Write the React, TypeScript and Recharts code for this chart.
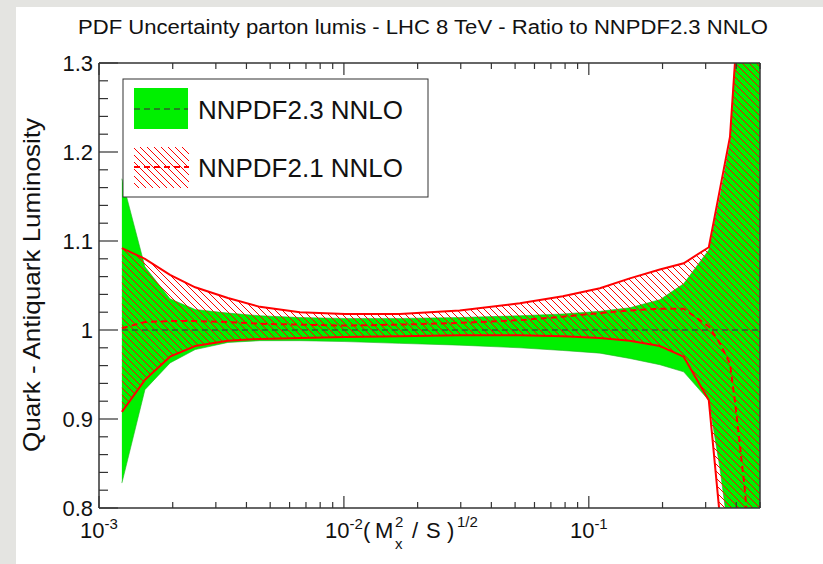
import React from 'react';
import { ComposedChart, Area, Line, XAxis, YAxis } from 'recharts';

// sqrt(M_X^2 / S)
const xValues = [0.00124, 0.00154, 0.00195, 0.00247, 0.00336, 0.00454, 0.00661, 0.0101, 0.0169, 0.0297, 0.0523, 0.0783, 0.111, 0.147, 0.195, 0.244, 0.309, 0.343, 0.377, 0.395, 0.434, 0.499];

// NNPDF2.3 NNLO (ratio to itself)
const nnpdf23Upper = [1.170, 1.071, 1.035, 1.023, 1.019, 1.016, 1.014, 1.013, 1.013, 1.014, 1.016, 1.018, 1.021, 1.025, 1.034, 1.052, 1.090, 1.150, 1.210, 1.300, 1.450, 1.600];
const nnpdf23Lower = [0.828, 0.933, 0.963, 0.978, 0.986, 0.988, 0.988, 0.987, 0.985, 0.983, 0.980, 0.977, 0.974, 0.968, 0.961, 0.953, 0.921, 0.845, 0.760, 0.720, 0.640, 0.500];
const nnpdf23Central = [1, 1, 1, 1, 1, 1, 1, 1, 1, 1, 1, 1, 1, 1, 1, 1, 1, 1, 1, 1, 1, 1];

// NNPDF2.1 NNLO
const nnpdf21Upper = [1.092, 1.080, 1.062, 1.048, 1.036, 1.026, 1.020, 1.018, 1.018, 1.022, 1.030, 1.038, 1.047, 1.058, 1.068, 1.075, 1.093, 1.158, 1.217, 1.300, 1.450, 1.650];
const nnpdf21Lower = [0.908, 0.944, 0.970, 0.982, 0.988, 0.990, 0.991, 0.992, 0.993, 0.994, 0.994, 0.993, 0.991, 0.988, 0.982, 0.970, 0.921, 0.790, 0.650, 0.600, 0.500, 0.400];
const nnpdf21Central = [1.002, 1.009, 1.010, 1.010, 1.009, 1.007, 1.006, 1.005, 1.006, 1.008, 1.011, 1.015, 1.019, 1.022, 1.024, 1.024, 1.004, 0.985, 0.962, 0.920, 0.820, 0.600];

const xTicks = [0.001, 0.002, 0.003, 0.004, 0.005, 0.006, 0.007, 0.008, 0.009, 0.01, 0.02, 0.03, 0.04, 0.05, 0.06, 0.07, 0.08, 0.09, 0.1, 0.2, 0.3, 0.4, 0.5];
const xMajorTicks = [0.001, 0.01, 0.1];
const xMajorExponents = ['-3', '-2', '-1'];

const yTicks = [0.8, 0.82, 0.84, 0.86, 0.88, 0.9, 0.92, 0.94, 0.96, 0.98, 1.0, 1.02, 1.04, 1.06, 1.08, 1.1, 1.12, 1.14, 1.16, 1.18, 1.2, 1.22, 1.24, 1.26, 1.28, 1.3];
const yMajorTicks = [0.8, 0.9, 1.0, 1.1, 1.2, 1.3];
const yMajorLabels = ['0.8', '0.9', '1', '1.1', '1.2', '1.3'];

const seriesNames = ['NNPDF2.3 NNLO', 'NNPDF2.1 NNLO'];
const titleText = 'PDF Uncertainty parton lumis - LHC 8 TeV - Ratio to NNPDF2.3 NNLO';
const yLabelText = 'Quark - Antiquark Luminosity';

const data = xValues.map((x, i) => ({
  x,
  g: [nnpdf23Lower[i], nnpdf23Upper[i]],
  r: [nnpdf21Lower[i], nnpdf21Upper[i]],
  gc: nnpdf23Central[i],
  rc: nnpdf21Central[i],
}));

const FONT = '"Liberation Sans", Arial, Helvetica, sans-serif';
const FRAME = '#333333';
const GREEN = '#00f000';
const RED = '#ff0000';
const DARK_DASH = '#2d5e2d';

const findIndex = (arr: number[], v: number) => arr.findIndex((a) => Math.abs(a - v) < 1e-9);

const YTick = (props: any) => {
  const { x, y, payload } = props;
  const idx = findIndex(yMajorTicks, payload.value);
  const major = idx >= 0;
  return (
    <g>
      <line x1={x} x2={x + (major ? 19 : 9)} y1={y} y2={y} stroke={FRAME} strokeWidth={1.2} />
      {major && (
        <text x={x - 6} y={y} dy="0.36em" textAnchor="end" fontSize={22} fontFamily={FONT} fill="#111">
          {yMajorLabels[idx]}
        </text>
      )}
    </g>
  );
};

const XTickBottom = (props: any) => {
  const { x, y, payload } = props;
  const idx = findIndex(xMajorTicks, payload.value);
  const major = idx >= 0;
  return (
    <g>
      <line x1={x} x2={x} y1={y} y2={y - (major ? 12 : 6)} stroke={FRAME} strokeWidth={1.2} />
      {major && (
        <text x={x} y={y + 30} textAnchor="middle" fontSize={22} fontFamily={FONT} fill="#111">
          <tspan>10</tspan>
          <tspan dy={-9} fontSize={15}>{xMajorExponents[idx]}</tspan>
        </text>
      )}
    </g>
  );
};

const XTickTop = (props: any) => {
  const { x, y, payload } = props;
  const major = findIndex(xMajorTicks, payload.value) >= 0;
  return <line x1={x} x2={x} y1={y} y2={y + (major ? 12 : 6)} stroke={FRAME} strokeWidth={1.2} />;
};

const HatchPattern = ({ id }: { id: string }) => (
  <pattern id={id} patternUnits="userSpaceOnUse" width={7} height={7}>
    <path d="M0,0 L7,7 M-1,6 L1,8 M6,-1 L8,1" stroke={RED} strokeWidth={1} />
  </pattern>
);

export default function App() {
  return (
    <div style={{ position: 'absolute', left: 0, top: 0, width: 823, height: 564, background: '#e4e4e1', overflow: 'hidden' }}>
      <div style={{ position: 'absolute', left: 16, top: 7, width: 807, height: 557, background: '#ffffff' }} />
      <div style={{ position: 'absolute', left: 0, top: 0 }}>
        <ComposedChart width={823} height={564} data={data} margin={{ top: 62, right: 62, bottom: 0, left: 0 }}>
          <defs>
            <HatchPattern id="hatchPlot" />
          </defs>
          <XAxis
            dataKey="x"
            type="number"
            scale="log"
            domain={[0.001, 0.5]}
            allowDataOverflow
            ticks={xTicks}
            interval={0}
            tickSize={0}
            tickMargin={0}
            tickLine={false}
            height={56}
            axisLine={{ stroke: FRAME, strokeWidth: 1.5 }}
            tick={<XTickBottom />}
          />
          <XAxis
            xAxisId="top"
            orientation="top"
            dataKey="x"
            type="number"
            scale="log"
            domain={[0.001, 0.5]}
            allowDataOverflow
            ticks={xTicks}
            interval={0}
            tickSize={0}
            tickMargin={0}
            tickLine={false}
            height={1}
            axisLine={{ stroke: FRAME, strokeWidth: 1.5 }}
            tick={<XTickTop />}
          />
          <YAxis
            type="number"
            domain={[0.8, 1.3]}
            allowDataOverflow
            ticks={yTicks}
            interval={0}
            tickSize={0}
            tickMargin={0}
            tickLine={false}
            width={99}
            axisLine={{ stroke: FRAME, strokeWidth: 1.5 }}
            tick={<YTick />}
          />
          <YAxis
            yAxisId="r"
            orientation="right"
            type="number"
            domain={[0.8, 1.3]}
            allowDataOverflow
            ticks={yMajorTicks}
            tick={false}
            tickLine={false}
            width={1}
            axisLine={{ stroke: FRAME, strokeWidth: 1.5 }}
          />
          <Area
            type="linear"
            dataKey="g"
            fill={GREEN}
            fillOpacity={1}
            stroke="#22b022"
            strokeWidth={0.6}
            isAnimationActive={false}
            dot={false}
            activeDot={false}
          />
          <Area
            type="linear"
            dataKey="r"
            fill="url(#hatchPlot)"
            fillOpacity={1}
            stroke={RED}
            strokeWidth={2}
            isAnimationActive={false}
            dot={false}
            activeDot={false}
          />
          <Line
            type="linear"
            dataKey="gc"
            stroke={DARK_DASH}
            strokeWidth={1.3}
            strokeDasharray="6 4"
            dot={false}
            activeDot={false}
            isAnimationActive={false}
          />
          <Line
            type="linear"
            dataKey="rc"
            stroke={RED}
            strokeWidth={2}
            strokeDasharray="6 4"
            dot={false}
            activeDot={false}
            isAnimationActive={false}
          />
        </ComposedChart>
      </div>
      <svg width={823} height={564} style={{ position: 'absolute', left: 0, top: 0, pointerEvents: 'none' }}>
        <defs>
          <HatchPattern id="hatchLegend" />
        </defs>
        <text x={78} y={34} fontSize={20} fontFamily={FONT} fill="#111" textLength={690} lengthAdjust="spacingAndGlyphs">
          {titleText}
        </text>
        <text
          transform="translate(40,285) rotate(-90)"
          textAnchor="middle"
          fontSize={24}
          fontFamily={FONT}
          fill="#111"
          textLength={334}
          lengthAdjust="spacingAndGlyphs"
        >
          {yLabelText}
        </text>
        <g fontFamily={FONT} fill="#111">
          <text x={363} y={538} fontSize={22}>(</text>
          <text x={375} y={538} fontSize={22}>M</text>
          <text x={395} y={549} fontSize={15}>x</text>
          <text x={395} y={527} fontSize={15}>2</text>
          <text x={412} y={538} fontSize={22}>/</text>
          <text x={426} y={538} fontSize={22}>S</text>
          <text x={447} y={538} fontSize={22}>)</text>
          <text x={457} y={527} fontSize={15}>1/2</text>
        </g>
        <rect x={123} y={79} width={305} height={118} fill="#ffffff" stroke={FRAME} strokeWidth={1} />
        <rect x={134} y={88} width={54} height={41} fill={GREEN} />
        <line x1={134} x2={188} y1={109} y2={109} stroke={DARK_DASH} strokeWidth={1.3} strokeDasharray="6 4" />
        <rect x={134} y={147} width={55} height={41} fill="url(#hatchLegend)" />
        <line x1={134} x2={189} y1={167} y2={167} stroke={RED} strokeWidth={2} strokeDasharray="6 4" />
        <text x={198} y={119} fontSize={25} fontFamily={FONT} fill="#111" textLength={205} lengthAdjust="spacingAndGlyphs">
          {seriesNames[0]}
        </text>
        <text x={198} y={177} fontSize={25} fontFamily={FONT} fill="#111" textLength={205} lengthAdjust="spacingAndGlyphs">
          {seriesNames[1]}
        </text>
      </svg>
    </div>
  );
}
